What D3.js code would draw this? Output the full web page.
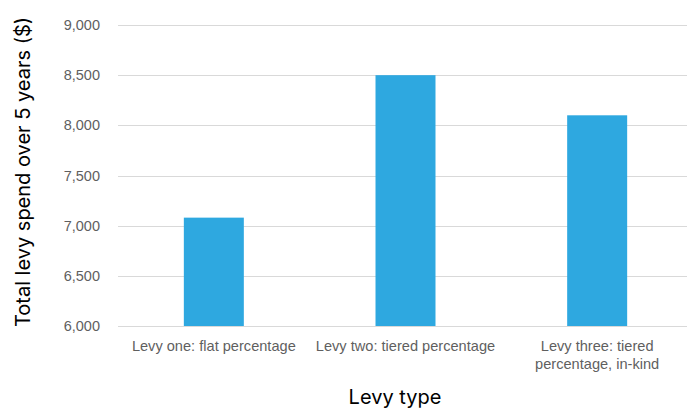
<!DOCTYPE html>
<html>
<head>
<meta charset="utf-8">
<script src="https://cdn.jsdelivr.net/npm/d3@7"></script>
<style>
  html, body { margin: 0; padding: 0; background: #fff; }
  svg { display: block; }
</style>
</head>
<body>
<svg id="chart" width="687" height="409"></svg>
<script>
const categories = [
  ["Levy one: flat percentage"],
  ["Levy two: tiered percentage"],
  ["Levy three: tiered", "percentage, in-kind"]
];
const values = [7080, 8500, 8100];
const yTicks = [6000, 6500, 7000, 7500, 8000, 8500, 9000];
const yTitle = "Total levy spend over 5 years ($)";
const xTitle = "Levy type";

const svg = d3.select("#chart");
const margin = { left: 118, top: 25, bottom: 326 };
const plotRight = 693;

const x = d3.scaleBand()
  .domain(d3.range(categories.length))
  .range([margin.left, plotRight])
  .paddingInner(0.687)
  .paddingOuter(0.3435);

const y = d3.scaleLinear()
  .domain([6000, 9000])
  .range([margin.bottom, margin.top]);

// Horizontal gridlines
svg.append("g")
  .selectAll("line")
  .data(yTicks)
  .join("line")
  .attr("x1", margin.left)
  .attr("x2", 687)
  .attr("y1", d => Math.round(y(d)) + 0.5)
  .attr("y2", d => Math.round(y(d)) + 0.5)
  .attr("stroke", "#d9d9d9")
  .attr("stroke-width", 1);

// Y axis labels
const yAxis = d3.axisLeft(y)
  .tickValues(yTicks)
  .tickFormat(d3.format(","))
  .tickSize(0)
  .tickPadding(0);
const gy = svg.append("g")
  .attr("transform", `translate(100,0)`)
  .call(yAxis);
gy.select(".domain").remove();
gy.selectAll("text")
  .attr("fill", "#5f5f5f")
  .style("font-family", "'Liberation Sans', Arial, sans-serif")
  .style("font-size", "14.5px");

// Bars
svg.append("g")
  .selectAll("rect")
  .data(values)
  .join("rect")
  .attr("x", (d, i) => x(i))
  .attr("width", x.bandwidth())
  .attr("y", d => y(d))
  .attr("height", d => y(6000) - y(d))
  .attr("fill", "#2ea8e0");

// Category labels
const labels = svg.append("g")
  .selectAll("text")
  .data(categories)
  .join("text")
  .attr("x", (d, i) => x(i) + x.bandwidth() / 2)
  .attr("y", 351)
  .attr("text-anchor", "middle")
  .attr("fill", "#5f5f5f")
  .style("font-family", "'Liberation Sans', Arial, sans-serif")
  .style("font-size", "14.6px");
labels.selectAll("tspan")
  .data(d => d)
  .join("tspan")
  .attr("x", function() { return this.parentNode.getAttribute("x"); })
  .attr("dy", (d, i) => i === 0 ? 0 : 18)
  .text(d => d);

// Axis titles
svg.append("text")
  .attr("x", 395)
  .attr("y", 404)
  .attr("text-anchor", "middle")
  .attr("fill", "#000")
  .style("font-family", "Inter, sans-serif")
  .style("font-size", "20px")
  .text(xTitle);

svg.append("text")
  .attr("transform", "translate(30,172) rotate(-90)")
  .attr("text-anchor", "middle")
  .attr("fill", "#000")
  .style("font-family", "Inter, sans-serif")
  .style("font-size", "20px")
  .text(yTitle);
</script>
</body>
</html>
